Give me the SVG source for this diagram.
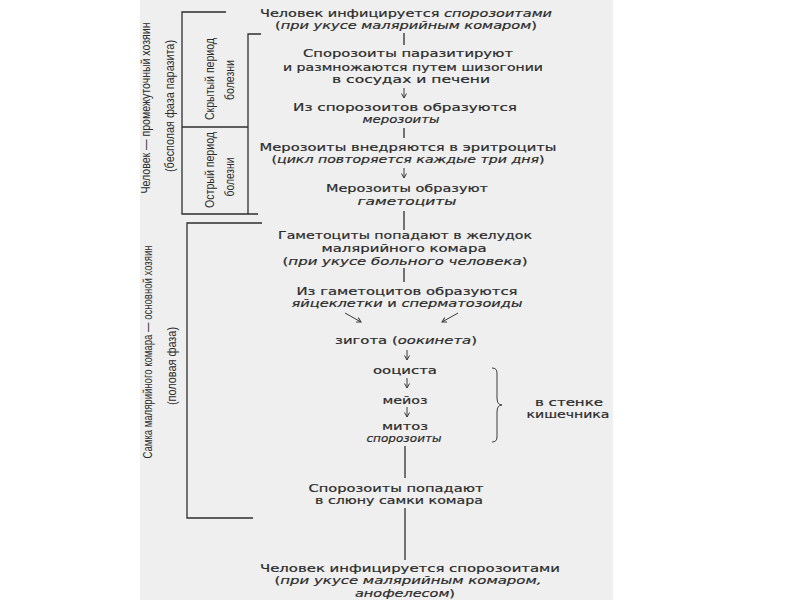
<svg xmlns="http://www.w3.org/2000/svg" width="800" height="600" viewBox="0 0 800 600">
<defs>
<style>
.t{font-family:"DejaVu Sans","Liberation Sans",sans-serif;font-size:11px;fill:#2b2b2b;stroke:#2b2b2b;stroke-width:0.2;text-anchor:middle}
.r{font-family:"Liberation Sans Narrow","Liberation Sans",sans-serif;font-size:12px;fill:#2b2b2b;text-anchor:middle}
.i{font-style:italic}
.ln{stroke:#2e2e2e;stroke-width:1.3;fill:none}
.ar{stroke:#3a3a3a;stroke-width:1;fill:none}
</style>
<marker id="ah" viewBox="0 0 6 6" refX="5" refY="3" markerWidth="6" markerHeight="6" orient="auto" markerUnits="userSpaceOnUse">
<path d="M0.5,0.5 L5,3 L0.5,5.5" fill="none" stroke="#3a3a3a" stroke-width="1"/>
</marker>
</defs>
<rect x="0" y="0" width="800" height="600" fill="#ffffff"/>
<rect x="140" y="0" width="473" height="600" fill="#efefef"/>

<g id="brackets">
<path class="ln" d="M226,12 H182 V214 H258"/>
<path class="ln" d="M182,127 H248"/>
<path class="ln" d="M261,34 H248 V214"/>
<path class="ln" d="M262,223 H187 V518 H253"/>
</g>

<g id="side-labels">
<text class="r" transform="translate(150,108) rotate(-90)" textLength="171" lengthAdjust="spacingAndGlyphs">Человек — промежуточный хозяин</text>
<text class="r" transform="translate(174,106) rotate(-90)" textLength="132" lengthAdjust="spacingAndGlyphs">(бесполая фаза паразита)</text>
<text class="r" transform="translate(214,79) rotate(-90)" textLength="82" lengthAdjust="spacingAndGlyphs">Скрытый период</text>
<text class="r" transform="translate(234,80) rotate(-90)" textLength="40" lengthAdjust="spacingAndGlyphs">болезни</text>
<text class="r" transform="translate(214,170) rotate(-90)" textLength="76" lengthAdjust="spacingAndGlyphs">Острый период</text>
<text class="r" transform="translate(234,177) rotate(-90)" textLength="39" lengthAdjust="spacingAndGlyphs">болезни</text>
<text class="r" transform="translate(152,352) rotate(-90)" textLength="213" lengthAdjust="spacingAndGlyphs">Самка малярийного комара — основной хозяин</text>
<text class="r" transform="translate(176,366) rotate(-90)" textLength="78" lengthAdjust="spacingAndGlyphs">(половая фаза)</text>
</g>

<g id="connectors">
<line class="ln" x1="404" y1="33" x2="404" y2="45"/>
<line class="ar" x1="404" y1="88" x2="404" y2="98" marker-end="url(#ah)"/>
<line class="ln" x1="404" y1="128" x2="404" y2="138"/>
<line class="ar" x1="404" y1="168" x2="404" y2="178" marker-end="url(#ah)"/>
<line class="ln" x1="404" y1="211" x2="404" y2="230"/>
<line class="ln" x1="404" y1="268" x2="404" y2="282"/>
<line class="ar" x1="345" y1="313" x2="361" y2="322" marker-end="url(#ah)"/>
<line class="ar" x1="458" y1="313" x2="442" y2="322" marker-end="url(#ah)"/>
<line class="ar" x1="407" y1="350" x2="407" y2="360" marker-end="url(#ah)"/>
<line class="ar" x1="407" y1="378" x2="407" y2="388" marker-end="url(#ah)"/>
<line class="ar" x1="407" y1="407" x2="407" y2="417" marker-end="url(#ah)"/>
<line class="ln" x1="405" y1="446" x2="405" y2="478"/>
<line class="ln" x1="405" y1="508" x2="405" y2="560"/>
<path class="ar" d="M492,368 Q497,368 497,373 V398 Q497,405 502,405 Q497,405 497,412 V437 Q497,442 492,442"/>
</g>

<g id="n1">
<text class="t" x="406" y="17" textLength="292" lengthAdjust="spacingAndGlyphs">Человек инфицируется <tspan class="i">спорозоитами</tspan></text>
<text class="t" x="406" y="29" textLength="262" lengthAdjust="spacingAndGlyphs">(<tspan class="i">при укусе малярийным комаром</tspan>)</text>
</g>
<g id="n2">
<text class="t" x="408" y="57" textLength="210" lengthAdjust="spacingAndGlyphs">Спорозоиты паразитируют</text>
<text class="t" x="413" y="71" textLength="260" lengthAdjust="spacingAndGlyphs">и размножаются путем шизогонии</text>
<text class="t" x="411" y="83" textLength="158" lengthAdjust="spacingAndGlyphs">в сосудах и печени</text>
</g>
<g id="n3">
<text class="t" x="405" y="111" textLength="224" lengthAdjust="spacingAndGlyphs">Из спорозоитов образуются</text>
<text class="t i" x="401" y="123" textLength="77" lengthAdjust="spacingAndGlyphs">мерозоиты</text>
</g>
<g id="n4">
<text class="t" x="408" y="151" textLength="297" lengthAdjust="spacingAndGlyphs">Мерозоиты внедряются в эритроциты</text>
<text class="t" x="408" y="163" textLength="273" lengthAdjust="spacingAndGlyphs">(<tspan class="i">цикл повторяется каждые три дня</tspan>)</text>
</g>
<g id="n5">
<text class="t" x="407" y="192" textLength="162" lengthAdjust="spacingAndGlyphs">Мерозоиты образуют</text>
<text class="t i" x="407" y="205" textLength="99" lengthAdjust="spacingAndGlyphs">гаметоциты</text>
</g>
<g id="n6">
<text class="t" x="405" y="239" textLength="254" lengthAdjust="spacingAndGlyphs">Гаметоциты попадают в желудок</text>
<text class="t" x="404" y="252" textLength="165" lengthAdjust="spacingAndGlyphs">малярийного комара</text>
<text class="t" x="405" y="265" textLength="245" lengthAdjust="spacingAndGlyphs">(<tspan class="i">при укусе больного человека</tspan>)</text>
</g>
<g id="n7">
<text class="t" x="407" y="295" textLength="221" lengthAdjust="spacingAndGlyphs">Из гаметоцитов образуются</text>
<text class="t" x="407" y="307" textLength="231" lengthAdjust="spacingAndGlyphs"><tspan class="i">яйцеклетки</tspan> и <tspan class="i">сперматозоиды</tspan></text>
</g>
<g id="n8">
<text class="t" x="406" y="344" textLength="142" lengthAdjust="spacingAndGlyphs">зигота (<tspan class="i">оокинета</tspan>)</text>
</g>
<g id="n9">
<text class="t" x="405" y="374" textLength="64" lengthAdjust="spacingAndGlyphs">ооциста</text>
</g>
<g id="n10">
<text class="t" x="405" y="404" textLength="45" lengthAdjust="spacingAndGlyphs">мейоз</text>
</g>
<g id="n11">
<text class="t" x="405" y="430" textLength="46" lengthAdjust="spacingAndGlyphs">митоз</text>
<text class="t i" x="404" y="442" textLength="75" lengthAdjust="spacingAndGlyphs">спорозоиты</text>
</g>
<g id="n12">
<text class="t" x="569" y="406" textLength="68" lengthAdjust="spacingAndGlyphs">в стенке</text>
<text class="t" x="568" y="418" textLength="83" lengthAdjust="spacingAndGlyphs">кишечника</text>
</g>
<g id="n13">
<text class="t" x="396" y="492" textLength="175" lengthAdjust="spacingAndGlyphs">Спорозоиты попадают</text>
<text class="t" x="399" y="504" textLength="168" lengthAdjust="spacingAndGlyphs">в слюну самки комара</text>
</g>
<g id="n14">
<text class="t" x="410" y="572" textLength="300" lengthAdjust="spacingAndGlyphs">Человек инфицируется спорозоитами</text>
<text class="t" x="408" y="584" textLength="267" lengthAdjust="spacingAndGlyphs">(<tspan class="i">при укусе малярийным комаром,</tspan></text>
<text class="t" x="405" y="597" textLength="100" lengthAdjust="spacingAndGlyphs"><tspan class="i">анофелесом</tspan>)</text>
</g>
</svg>
